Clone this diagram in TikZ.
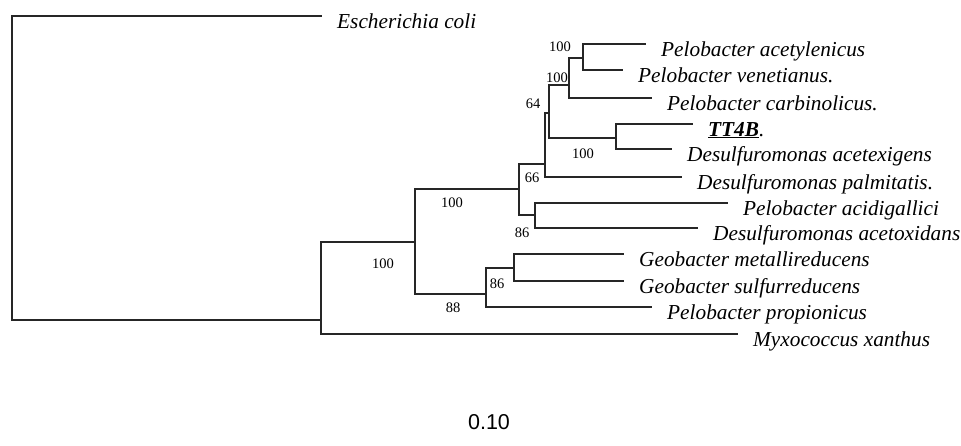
\documentclass[tikz,border=0pt]{standalone}
\usepackage{fontspec}
\setmainfont{Liberation Serif}
\setsansfont{Liberation Sans}
\usepackage{tikz}
\tikzset{
  branch/.style={line width=1.1pt,black!85},
  heavy/.style={line width=1.8pt},
  taxon/.style={anchor=base west,xshift=15pt,yshift=-12pt,inner sep=0pt,font=\fontsize{21.3}{24}\selectfont\itshape},
  boot/.style={inner sep=0pt,font=\fontsize{14.5}{16}\selectfont}
}

\begin{document}
\begin{tikzpicture}[x=1pt,y=-1pt]
\useasboundingbox (0,0) rectangle (961,445);
% inner nodes of the tree
\coordinate (r0) at (12,168);
\coordinate (n1) at (321,320);
\coordinate (n2) at (415,242);
\coordinate (n3) at (519,189);
\coordinate (n4) at (545,164);
\coordinate (n5) at (549,113);
\coordinate (n6) at (569,85);
\coordinate (n6a) at (583,58);
\coordinate (n7) at (616,138);
\coordinate (n8) at (535,215);
\coordinate (geo) at (486,294);
\coordinate (geo2) at (514,268);
% tips
\coordinate (ecoli) at (322,16);
\coordinate (acetyl) at (646,44);
\coordinate (venet) at (623,70);
\coordinate (carbin) at (652,98);
\coordinate (tt4b) at (693,124);
\coordinate (acetex) at (672,149);
\coordinate (palmit) at (682,177);
\coordinate (acidig) at (728,203);
\coordinate (acetox) at (698,228);
\coordinate (metall) at (624,254);
\coordinate (sulfur) at (624,281);
\coordinate (propio) at (652,307);
\coordinate (myxo) at (738,334);
% branches
\foreach \p/\c in {r0/ecoli,r0/n1,n1/n2,n1/myxo,n2/n3,n2/geo,n3/n4,n3/n8,
  n4/n5,n4/palmit,n6/n6a,n6a/acetyl,n6a/venet,n7/tt4b,n7/acetex,
  n8/acidig,n8/acetox,geo/geo2,geo/propio,geo2/metall,geo2/sulfur}
  \draw[branch] (\p) |- (\c);
\foreach \c in {n6,n7} \draw[branch,heavy] (n5) |- (\c);
\draw[branch,heavy] (n6) |- (carbin);
% taxa
\node[taxon] (ecolil) at (ecoli) {Escherichia coli};
\node[taxon] (acetyll) at (acetyl) {Pelobacter acetylenicus};
\node[taxon] (venetl) at (venet) {Pelobacter venetianus.};
\node[taxon] (carbinl) at (carbin) {Pelobacter carbinolicus.};
\node[taxon] (tt4bl) at (tt4b) {\underline{\textbf{TT4B}}.};
\node[taxon] (acetexl) at (acetex) {Desulfuromonas acetexigens};
\node[taxon] (palmitl) at (palmit) {Desulfuromonas palmitatis.};
\node[taxon] (acidigl) at (acidig) {Pelobacter acidigallici};
\node[taxon] (acetoxl) at (acetox) {Desulfuromonas acetoxidans};
\node[taxon] (metalll) at (metall) {Geobacter metallireducens};
\node[taxon] (sulfurl) at (sulfur) {Geobacter sulfurreducens};
\node[taxon] (propiol) at (propio) {Pelobacter propionicus};
\node[taxon] (myxol) at (myxo) {Myxococcus xanthus};
% bootstrap values
\node[boot] (b1) at (560,47) {100};
\node[boot] (b2) at (557,78) {100};
\node[boot] (b3) at (533,104) {64};
\node[boot] (b4) at (583,154) {100};
\node[boot] (b5) at (532,178) {66};
\node[boot] (b6) at (452,203) {100};
\node[boot] (b7) at (522,233) {86};
\node[boot] (b8) at (383,264) {100};
\node[boot] (b9) at (497,284) {86};
\node[boot] (b10) at (453,308) {88};
% scale
\node[font=\sffamily\fontsize{21.5}{24}\selectfont] (scale) at (489,422) {0.10};
\end{tikzpicture}
\end{document}
